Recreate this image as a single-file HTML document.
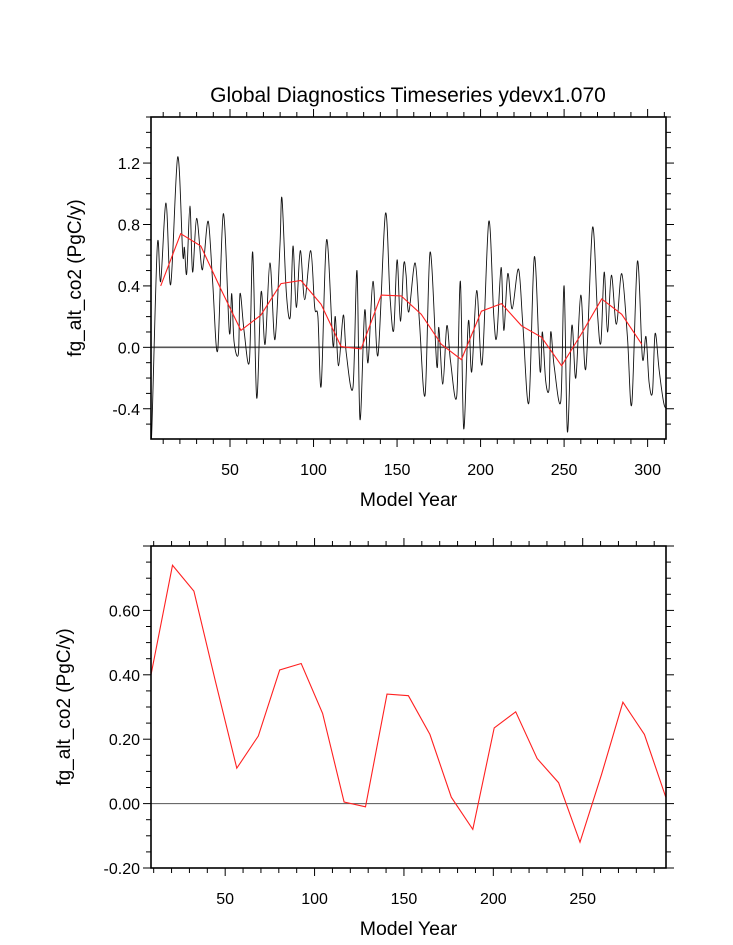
<!DOCTYPE html>
<html><head><meta charset="utf-8">
<style>
body{margin:0;background:#fff;}
svg{display:block;font-family:"Liberation Sans",sans-serif;}
</style></head>
<body>
<svg id="chart" width="733" height="945" viewBox="0 0 733 945">
<text x="408" y="102" text-anchor="middle" font-size="21">Global Diagnostics Timeseries ydevx1.070</text>
</svg>
<script>
// Annual series (years and values)
const annualYears = [2.1,3.1,6.5,8.5,11.7,14.5,18.7,21.7,22.7,24.1,26.0,27.6,30.0,33.0,34.4,37.0,39.6,42.6,46.0,49.6,51.0,52.4,55.0,56.0,58.4,61.6,63.6,66.0,68.6,71.0,73.9,76.9,79.9,81.1,83.7,86.1,87.7,89.7,92.1,94.7,98.3,100.7,102.6,104.6,107.8,111.6,113.0,115.0,117.8,119.6,123.6,126.0,127.8,130.6,132.6,135.6,138.6,143.0,145.8,148.0,150.0,152.0,154.0,155.4,157.0,160.8,163.4,166.8,169.8,173.8,175.0,177.4,179.8,182.0,185.7,187.9,189.9,192.7,194.7,197.7,200.9,204.9,207.9,209.7,212.3,213.9,216.3,218.9,222.7,225.3,228.9,232.2,235.6,237.0,239.0,241.0,242.0,244.0,248.0,250.0,252.0,254.6,257.0,260.0,263.0,267.0,270.0,272.0,274.0,276.0,278.3,281.3,284.5,287.9,290.5,293.9,296.9,299.0,300.9,302.9,304.5,306.9,309.8,311.8];
const annualValues = [-0.58,-0.56,0.66,0.43,0.94,0.41,1.24,0.61,0.65,0.48,0.92,0.49,0.84,0.52,0.58,0.82,0.43,-0.02,0.87,0.10,0.35,0.04,-0.04,0.35,0.11,-0.09,0.62,-0.33,0.36,0.02,0.55,0.05,0.67,0.97,0.36,0.20,0.66,0.26,0.63,0.31,0.63,0.26,0.20,-0.25,0.70,0.02,0.20,-0.12,0.21,-0.04,-0.26,0.50,-0.47,0.24,-0.10,0.43,-0.05,0.87,0.33,0.11,0.57,0.17,0.54,0.47,0.23,0.55,0.17,-0.31,0.62,-0.12,0.13,-0.24,0.14,-0.09,-0.32,0.43,-0.53,0.17,-0.16,0.37,-0.11,0.82,0.20,0.07,0.52,0.11,0.48,0.25,0.51,0.15,-0.36,0.59,-0.15,0.10,-0.22,-0.27,0.10,-0.12,-0.35,0.40,-0.55,0.14,-0.20,0.34,-0.14,0.78,0.22,0.03,0.49,0.10,0.47,0.15,0.48,0.07,-0.37,0.56,-0.07,0.07,-0.23,-0.29,0.09,-0.15,-0.37,-0.39];
// Smoothed (12-year mean) series
const meanYears = [8.5,20.5,32.5,44.5,56.5,68.5,80.5,92.5,104.5,116.5,128.5,140.5,152.5,164.5,176.5,188.5,200.5,212.5,224.5,236.5,248.5,260.5,272.5,284.5,296.5];
const meanValues = [0.40,0.74,0.66,0.38,0.11,0.21,0.415,0.435,0.28,0.005,-0.01,0.34,0.335,0.215,0.02,-0.08,0.235,0.285,0.14,0.065,-0.12,0.09,0.315,0.215,0.02];
const topYTicks = [-0.4,0.0,0.4,0.8,1.2];
const topYLabels = ["-0.4","0.0","0.4","0.8","1.2"];
const topXTicks = [50,100,150,200,250,300];
const botYTicks = [-0.2,0,0.2,0.4,0.6];
const botYLabels = ["-0.20","0.00","0.20","0.40","0.60"];
const botXTicks = [50,100,150,200,250];

const NS='http://www.w3.org/2000/svg';
const svg=document.getElementById('chart');
function el(tag,attrs,parent){const e=document.createElementNS(NS,tag);for(const k in attrs)e.setAttribute(k,attrs[k]);(parent||svg).appendChild(e);return e;}

function smoothPath(P){
  let d='M'+P[0][0].toFixed(1)+','+P[0][1].toFixed(1);
  for(let i=0;i<P.length-1;i++){
    const p0=P[i-1]||P[i],p1=P[i],p2=P[i+1],p3=P[i+2]||P[i+1];
    const c1x=p1[0]+(p2[0]-p0[0])/6,c1y=p1[1]+(p2[1]-p0[1])/6;
    const c2x=p2[0]-(p3[0]-p1[0])/6,c2y=p2[1]-(p3[1]-p1[1])/6;
    d+=' C'+c1x.toFixed(1)+','+c1y.toFixed(1)+' '+c2x.toFixed(1)+','+c2y.toFixed(1)+' '+p2[0].toFixed(1)+','+p2[1].toFixed(1);
  }
  return d;
}

function panel(p){
  const g=el('g',{});
  
  
  const sx=v=>p.x0+(v-p.xmin)/(p.xmax-p.xmin)*(p.x1-p.x0);
  const sy=v=>p.y1-(v-p.ymin)/(p.ymax-p.ymin)*(p.y1-p.y0);
  const tk=el('g',{stroke:'#000','stroke-width':'1'},g);
  
  
  for(let v=Math.ceil(p.xmin/p.xminor)*p.xminor; v<=p.xmax+1e-9; v+=p.xminor){
    const x=sx(v); const maj=Math.abs(v/p.xmajor-Math.round(v/p.xmajor))<1e-6; const L=maj?8:5;
    el('line',{x1:x,x2:x,y1:p.y1,y2:p.y1+L},tk); el('line',{x1:x,x2:x,y1:p.y0,y2:p.y0-L},tk);
  }
  for(let i=Math.ceil((p.ymin-1e-9)/p.yminor); i*p.yminor<=p.ymax+1e-9; i++){
    const v=i*p.yminor; const y=sy(v); const r=v/p.ymajor; const maj=Math.abs(r-Math.round(r))<1e-6; const L=maj?8:5;
    el('line',{x1:p.x0,x2:p.x0-L,y1:y,y2:y},tk); el('line',{x1:p.x1,x2:p.x1+L,y1:y,y2:y},tk);
  }
  p.xt.forEach(v=>{const t=el('text',{x:sx(v),y:p.y1+36,'text-anchor':'middle','font-size':'16'},g);t.textContent=v;
    });
  p.yt.forEach((v,i)=>{const t=el('text',{x:p.x0-11,y:sy(v)+6,'text-anchor':'end','font-size':'16'},g);t.textContent=p.yl[i];
    });
  const z=el('line',{x1:p.x0,x2:p.x1,y1:sy(0),y2:sy(0),stroke:'#555','stroke-width':p.zw},g);
  
  const cp='clip-'+p.name;
  const c=el('clipPath',{id:cp},g);el('rect',{x:p.x0,y:p.y0,width:p.x1-p.x0,height:p.y1-p.y0},c);
  if(p.black){
    const P=annualYears.map((yr,i)=>[sx(yr),sy(annualValues[i])]);
    const l=el('path',{d:smoothPath(P),fill:'none',stroke:'#111','stroke-width':'0.9','clip-path':'url(#'+cp+')'},g);
    
  }
  const pts2=meanYears.map((yr,i)=>sx(yr).toFixed(1)+','+sy(meanValues[i]).toFixed(1)).join(' ');
  const r=el('polyline',{points:pts2,fill:'none',stroke:'#ff2020','stroke-width':'1.1','clip-path':'url(#'+cp+')'},g);
  
  const fr=el('rect',{x:p.x0,y:p.y0,width:p.x1-p.x0,height:p.y1-p.y0,fill:'none',stroke:'#000','stroke-width':'1.6'},g);
  
  const xt=el('text',{x:(p.x0+p.x1)/2,y:p.y1+67,'text-anchor':'middle','font-size':'19.5'},g);xt.textContent='Model Year';
  
  const cy=(p.y0+p.y1)/2;
  const yt=el('text',{x:p.ytx,y:cy,'text-anchor':'middle','font-size':'19',transform:'rotate(-90 '+p.ytx+' '+cy+')'},g);yt.textContent='fg_alt_co2 (PgC/y)';
  
}
panel({name:'top-panel',x0:151,x1:666,y0:117,y1:439,xmin:2.7,xmax:311,ymin:-0.597,ymax:1.5,
  xminor:10,xmajor:50,yminor:0.1,ymajor:0.4,xt:topXTicks,yt:topYTicks,yl:topYLabels,black:true,zw:1.6,ytx:81});
panel({name:'bottom-panel',x0:151,x1:666,y0:546,y1:868,xmin:8.5,xmax:296.6,ymin:-0.2,ymax:0.8,
  xminor:10,xmajor:50,yminor:0.05,ymajor:0.2,xt:botXTicks,yt:botYTicks,yl:botYLabels,black:false,zw:1,ytx:70});
</script>
</body></html>
